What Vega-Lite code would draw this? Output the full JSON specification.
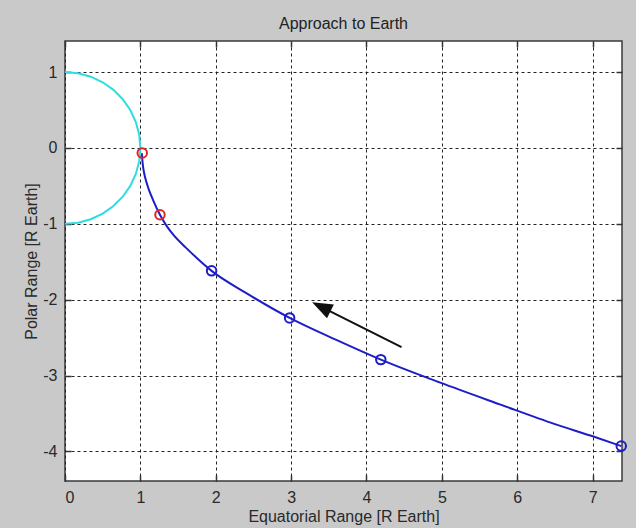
{
  "$schema": "https://vega.github.io/schema/vega-lite/v6.json",
  "width": 557,
  "height": 440,
  "autosize": {"type": "none"},
  "padding": {"left": 65, "top": 41, "right": 14, "bottom": 47},
  "background": "#c9c9c9",
  "view": {"fill": "white", "stroke": "#3a3a3a", "strokeWidth": 1.5},
  "title": {"text": "Approach to Earth", "font": "Liberation Sans", "fontSize": 16, "fontWeight": "normal", "color": "#222222", "offset": 8},
  "config": {
    "axis": {
      "labelFont": "Liberation Sans", "labelFontSize": 16, "labelColor": "#2a2a2a",
      "titleFont": "Liberation Sans", "titleFontSize": 16, "titleFontWeight": "normal", "titleColor": "#2a2a2a",
      "tickColor": "#333333", "tickWidth": 1.5, "tickSize": -6, "domain": false,
      "gridColor": "#222222", "gridDash": [3, 3], "gridWidth": 1, "gridOpacity": 1
    }
  },
  "datasets": {
    "earth": [
      {"i": 0, "x": 0, "y": 1},
      {"i": 1, "x": 0.1736, "y": 0.9848},
      {"i": 2, "x": 0.342, "y": 0.9397},
      {"i": 3, "x": 0.5, "y": 0.866},
      {"i": 4, "x": 0.6428, "y": 0.766},
      {"i": 5, "x": 0.766, "y": 0.6428},
      {"i": 6, "x": 0.866, "y": 0.5},
      {"i": 7, "x": 0.9397, "y": 0.342},
      {"i": 8, "x": 0.9848, "y": 0.1736},
      {"i": 9, "x": 1, "y": 0},
      {"i": 10, "x": 0.9848, "y": -0.1736},
      {"i": 11, "x": 0.9397, "y": -0.342},
      {"i": 12, "x": 0.866, "y": -0.5},
      {"i": 13, "x": 0.766, "y": -0.6428},
      {"i": 14, "x": 0.6428, "y": -0.766},
      {"i": 15, "x": 0.5, "y": -0.866},
      {"i": 16, "x": 0.342, "y": -0.9397},
      {"i": 17, "x": 0.1736, "y": -0.9848},
      {"i": 18, "x": 0, "y": -1}
    ],
    "traj": [
      {"i": 0, "x": 1.02, "y": -0.07},
      {"i": 1, "x": 1.03, "y": -0.2},
      {"i": 2, "x": 1.05, "y": -0.33},
      {"i": 3, "x": 1.08, "y": -0.45},
      {"i": 4, "x": 1.12, "y": -0.57},
      {"i": 5, "x": 1.17, "y": -0.69},
      {"i": 6, "x": 1.26, "y": -0.88},
      {"i": 7, "x": 1.35, "y": -1.03},
      {"i": 8, "x": 1.45, "y": -1.16},
      {"i": 9, "x": 1.6, "y": -1.31},
      {"i": 10, "x": 1.945, "y": -1.62},
      {"i": 11, "x": 2.4, "y": -1.91},
      {"i": 12, "x": 2.98, "y": -2.24},
      {"i": 13, "x": 3.6, "y": -2.53},
      {"i": 14, "x": 4.19, "y": -2.79},
      {"i": 15, "x": 4.97, "y": -3.09},
      {"i": 16, "x": 5.77, "y": -3.38},
      {"i": 17, "x": 6.5, "y": -3.64},
      {"i": 18, "x": 7.03, "y": -3.81},
      {"i": 19, "x": 7.38, "y": -3.93}
    ],
    "markers": [
      {"kind": "entry", "x": 1.025, "y": -0.067},
      {"kind": "entry", "x": 1.26, "y": -0.88},
      {"kind": "approach", "x": 1.945, "y": -1.62},
      {"kind": "approach", "x": 2.98, "y": -2.24},
      {"kind": "approach", "x": 4.19, "y": -2.79},
      {"kind": "approach", "x": 7.38, "y": -3.93}
    ],
    "arrow": [
      {"x": 4.465, "y": -2.624, "x2": 3.40, "y2": -2.095}
    ]
  },
  "resolve": {"axis": {"x": "independent", "y": "independent"}},
  "layer": [
    {
      "data": {"name": "earth"},
      "mark": {"type": "line", "color": "#2ddde0", "strokeWidth": 2},
      "encoding": {
        "x": {"field": "x", "type": "quantitative",
              "scale": {"domain": [0, 7.39], "nice": false, "zero": false},
              "axis": {"values": [0, 1, 2, 3, 4, 5, 6, 7], "grid": true, "labelPadding": 14, "title": "Equatorial Range [R Earth]", "titlePadding": 3}},
        "y": {"field": "y", "type": "quantitative",
              "scale": {"domain": [-4.39, 1.41], "nice": false, "zero": false},
              "axis": {"values": [-4, -3, -2, -1, 0, 1], "grid": true, "labelPadding": 14, "labelExpr": "datum.value + ''", "title": "Polar Range [R Earth]", "titlePadding": 3}},
        "order": {"field": "i"}
      }
    },
    {
      "data": {"name": "traj"},
      "mark": {"type": "line", "color": "#1e1ec8", "strokeWidth": 2, "interpolate": "monotone"},
      "encoding": {
        "x": {"field": "x", "type": "quantitative",
              "axis": {"orient": "top", "values": [0, 1, 2, 3, 4, 5, 6, 7], "grid": false, "labels": false, "title": null}},
        "y": {"field": "y", "type": "quantitative",
              "axis": {"orient": "right", "values": [-4, -3, -2, -1, 0, 1], "grid": false, "labels": false, "title": null}},
        "order": {"field": "i"}
      }
    },
    {
      "data": {"name": "markers"},
      "mark": {"type": "point", "shape": "circle", "filled": false, "size": 90, "strokeWidth": 2, "opacity": 1},
      "encoding": {
        "x": {"field": "x", "type": "quantitative", "axis": null},
        "y": {"field": "y", "type": "quantitative", "axis": null},
        "color": {"field": "kind", "type": "nominal",
                  "scale": {"domain": ["entry", "approach"], "range": ["#e02424", "#1e1ec8"]},
                  "legend": null}
      }
    },
    {
      "data": {"name": "arrow"},
      "mark": {"type": "rule", "color": "#111111", "strokeWidth": 2},
      "encoding": {
        "x": {"field": "x", "type": "quantitative", "axis": null},
        "y": {"field": "y", "type": "quantitative", "axis": null},
        "x2": {"field": "x2"},
        "y2": {"field": "y2"}
      }
    },
    {
      "data": {"name": "arrow"},
      "mark": {"type": "point", "shape": "M0,-1L-0.75,1L0.75,1Z", "filled": true, "size": 420, "angle": 296.6, "color": "#111111", "opacity": 1},
      "encoding": {
        "x": {"field": "x2", "type": "quantitative", "axis": null},
        "y": {"field": "y2", "type": "quantitative", "axis": null}
      }
    }
  ]
}
